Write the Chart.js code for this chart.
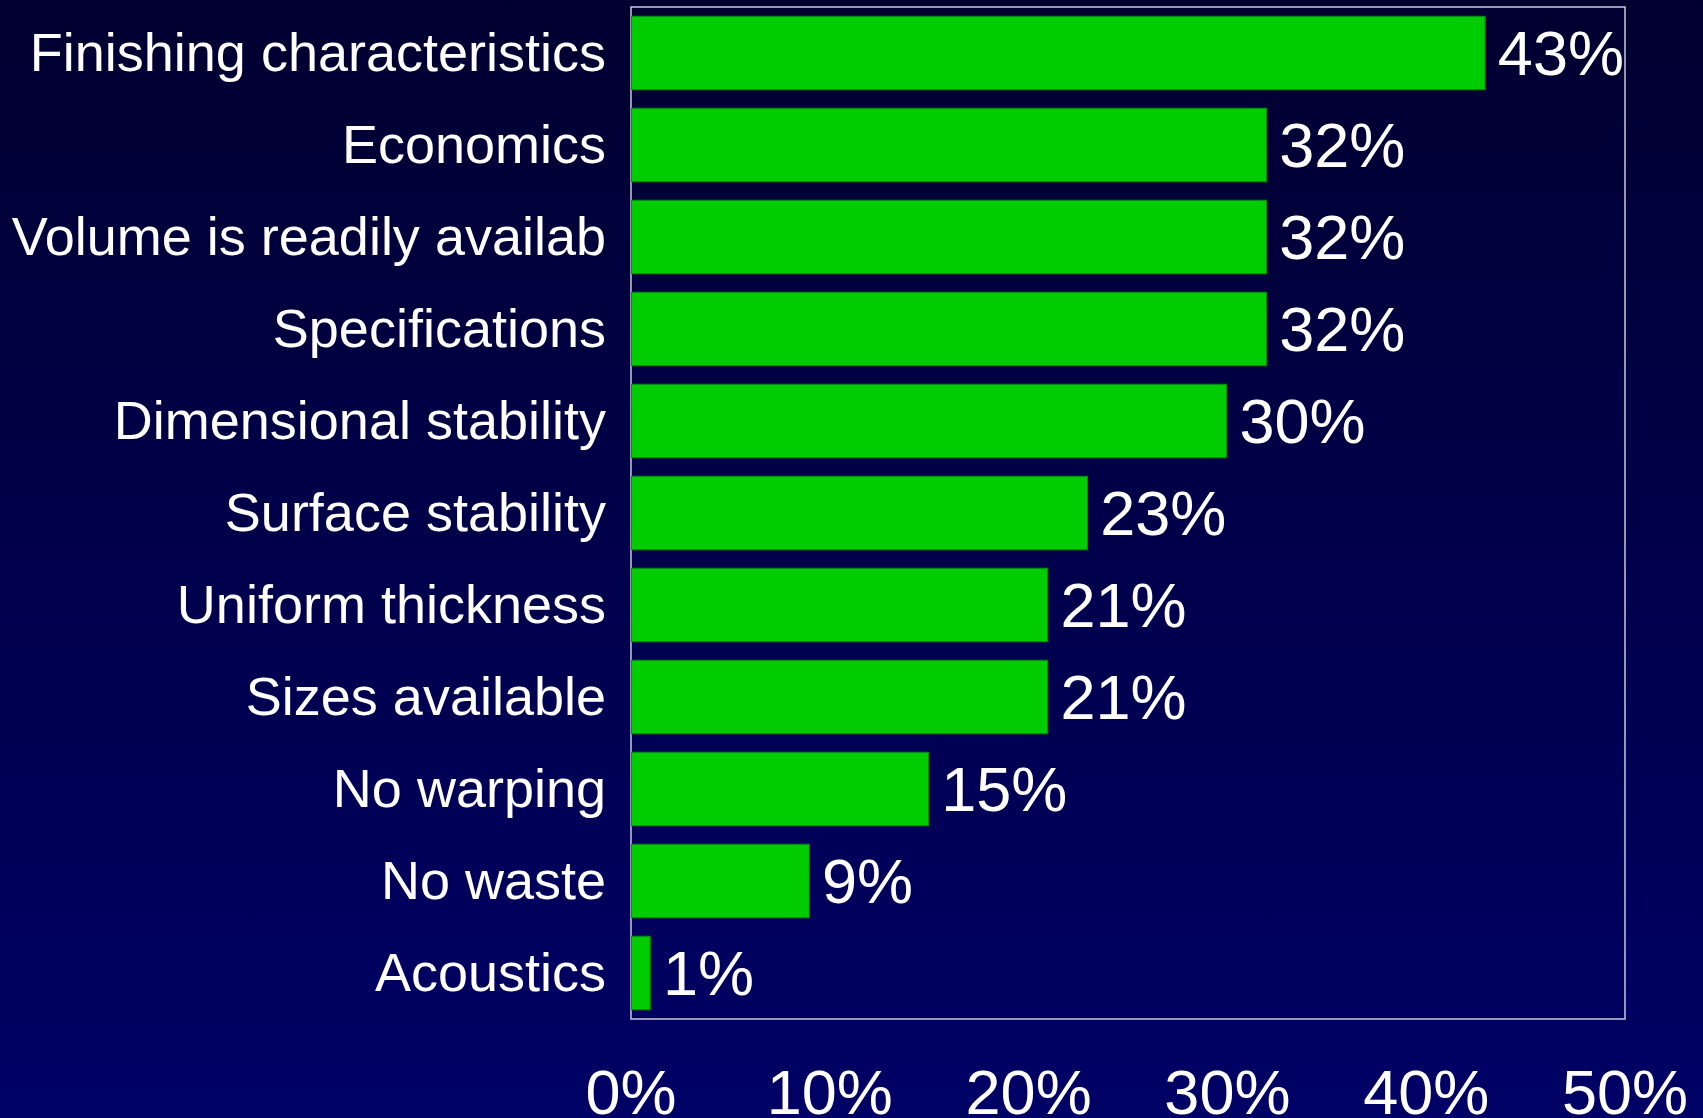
<!DOCTYPE html>
<html>
<head>
<meta charset="utf-8">
<script src="https://cdn.jsdelivr.net/npm/chart.js@4/dist/chart.umd.min.js"></script>
<style>
  html, body { margin: 0; padding: 0; }
  body { background: linear-gradient(#000030, #000066); width: 1703px; height: 1118px; overflow: hidden; }
  #wrap { width: 1703px; height: 1118px; position: relative; }
</style>
</head>
<body>
<div id="wrap"><canvas id="barChart"></canvas></div>
<script>
const categories = [
  "Finishing characteristics", "Economics", "Volume is readily availab",
  "Specifications", "Dimensional stability", "Surface stability",
  "Uniform thickness", "Sizes available", "No warping", "No waste", "Acoustics"
];
const percents = [43, 32, 32, 32, 30, 23, 21, 21, 15, 9, 1];
const axisMax = 50;
const axisStep = 10;

const FONT = "'Liberation Sans', Arial, sans-serif";

// box round the plot area, drawn under the bars
const frame = {
  id: "frame",
  beforeDatasetsDraw(chart) {
    const { ctx, chartArea: a } = chart;
    ctx.save();
    ctx.strokeStyle = "#c8c8d8";
    ctx.lineWidth = 1.5;
    ctx.strokeRect(a.left, a.top, a.right - a.left, a.bottom - a.top);
    ctx.restore();
  }
};

// percentage labels at the end of each bar
const valueLabels = {
  id: "valueLabels",
  afterDatasetsDraw(chart) {
    const { ctx } = chart;
    const meta = chart.getDatasetMeta(0);
    ctx.save();
    ctx.fillStyle = "#ffffff";
    ctx.font = "63px " + FONT;
    ctx.textAlign = "left";
    ctx.textBaseline = "middle";
    meta.data.forEach((bar, i) => {
      ctx.fillText(percents[i] + "%", bar.x + 12, bar.y + 5);
    });
    ctx.restore();
  }
};

new Chart(document.getElementById("barChart"), {
  type: "bar",
  data: {
    labels: categories,
    datasets: [{
      data: percents,
      backgroundColor: "#00cc00",
      borderColor: "#009900",
      borderWidth: 1,
      borderSkipped: false,
      barPercentage: 0.815,
      categoryPercentage: 1
    }]
  },
  options: {
    indexAxis: "y",
    responsive: true,
    maintainAspectRatio: false,
    animation: false,
    layout: { padding: { left: 0, right: 78, top: 7, bottom: 0 } },
    plugins: { legend: { display: false }, tooltip: { enabled: false } },
    scales: {
      x: {
        min: 0,
        max: axisMax,
        ticks: {
          stepSize: axisStep,
          color: "#ffffff",
          font: { size: 63, family: FONT },
          padding: 40,
          maxRotation: 0,
          callback: (v) => v + "%"
        },
        grid: { display: false, drawTicks: false },
        border: { display: false },
        afterFit: (s) => { s.height = 99; s.paddingLeft = 0; s.paddingRight = 0; }
      },
      y: {
        ticks: {
          color: "#ffffff",
          font: { size: 54, family: FONT },
          padding: 25,
          labelOffset: 3
        },
        grid: { display: false, drawTicks: false },
        border: { display: false },
        afterFit: (s) => { s.width = 631; s.paddingTop = 0; s.paddingBottom = 0; }
      }
    }
  },
  plugins: [frame, valueLabels]
});
</script>
</body>
</html>
